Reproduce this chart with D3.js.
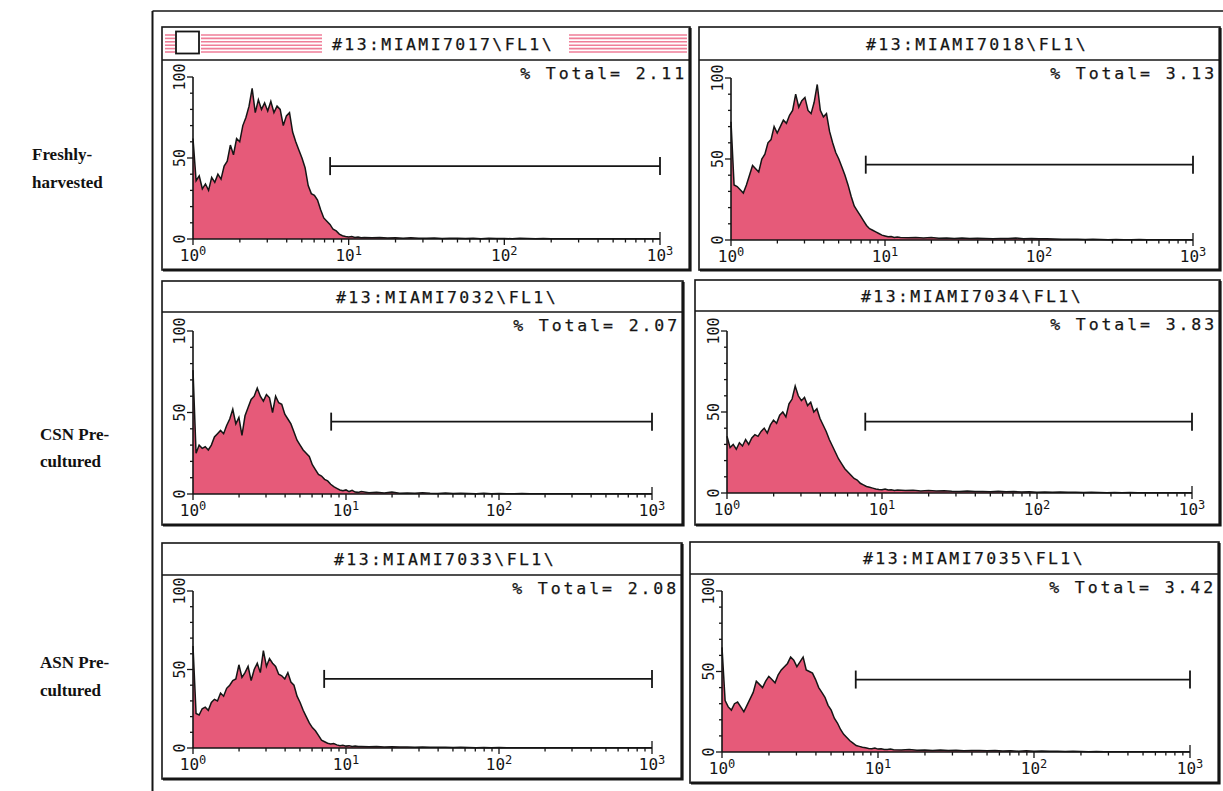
<!DOCTYPE html>
<html><head><meta charset="utf-8">
<script src="https://cdn.jsdelivr.net/npm/d3@7"></script>
<style>body{margin:0;background:#fff}svg{display:block}</style>
</head><body>
<svg id="c" width="1223" height="791"></svg>
<script>
// ---------- DATA ----------
// channel position in hundredths of a decade (0 = 10^0, 300 = 10^3)
const channel = [0,2,4,6,8,10,12,14,16,18,20,22,24,26,28,30,32,34,36,38,40,42,44,46,48,50,52,54,56,58,
  60,62,64,66,68,70,72,74,76,78,80,82,84,86,88,90,92,94,96,98,100,102,104,106,108,110,
  115,120,125,130,135,140,145,150,155,160,165,170,175,180,185,190,195,200,205,210,215,220,225,230,235,240,
  245,250,255,260,265,270,275,280,285,290,295,300];

const sampleTitles = ["#13:MIAMI7017\\FL1\\","#13:MIAMI7018\\FL1\\","#13:MIAMI7032\\FL1\\",
                      "#13:MIAMI7034\\FL1\\","#13:MIAMI7033\\FL1\\","#13:MIAMI7035\\FL1\\"];
const percentTotal = ["2.11","3.13","2.07","3.83","2.08","3.42"];
const gateStart = [7.6, 7.5, 8.0, 7.8, 7.2, 7.2];     // marker start (fluorescence)
const gateLevel = [45, 46.5, 44.4, 44, 44, 45];      // marker height (counts scale)
const rowLabels = [["Freshly-","harvested"],["CSN Pre-","cultured"],["ASN Pre-","cultured"]];
const yTickValues = [0, 50, 100];
const yTickLabels = ["0", "50", "100"];
const xDecades = [1, 10, 100, 1000];
const xDecadeExp = ["0", "1", "2", "3"];

const counts7017 = [62,36,39,31,34,30,38,35,40,37,45,48,58,52,62,60,70,75,82,93,
  78,86,80,84,79,85,78,82,80,70,76,78,66,60,55,50,44,33,28,27,24,18,13,11,9,6,5,3,2,1.5,
  1.2,1.5,1,1.2,0.8,1,
  0.8,1,0.6,0.7,0.5,0.8,0.4,0.5,0.6,0.3,0.5,0.4,0.3,0.5,0.2,0.4,0.3,0.3,0.2,0.4,
  0.3,0.2,0.3,0.2,0.1,0.2,0.1,0.2,0.1,0.1,0.2,0.1,0.1,0.1,0.2,0.1,0.1,0.1];
const counts7018 = [73,34,33,31,29,34,40,46,44,42,50,53,60,62,70,66,70,74,72,77,
  80,90,82,86,88,80,78,85,96,80,76,78,67,60,54,50,45,40,34,27,21,18,15,12,9,7,6,5,4,3,
  2.5,2,2.2,1.6,1.8,1.5,
  1.4,1.6,1.2,1.5,1.1,1.3,1.0,1.2,0.9,1.1,1.0,0.8,1.0,0.9,1.2,0.8,0.9,0.7,0.8,0.6,
  0.5,0.4,0.4,0.3,0.4,0.3,0.2,0.3,0.2,0.2,0.3,0.2,0.1,0.2,0.1,0.1,0.1,0.1];
const counts7032 = [76,25,30,28,29,27,30,35,37,39,37,42,46,52,43,47,36,48,53,58,
  60,65,60,57,61,59,50,60,56,55,49,46,43,38,33,30,27,25,23,18,15,12,11,9,8,6,4.5,3.5,2.5,2,
  2.5,1.5,2.2,1.2,1.0,1.5,
  0.8,1.0,0.6,1.2,0.5,0.6,0.4,0.8,0.4,0.3,0.6,0.3,0.5,0.3,0.2,0.4,0.2,0.3,0.2,0.2,
  0.3,0.1,0.2,0.2,0.1,0.2,0.1,0.1,0.2,0.1,0.1,0.1,0.1,0.2,0.1,0.1,0.1,0.1];
const counts7034 = [35,28,30,27,31,29,33,30,34,36,35,38,40,37,42,45,43,48,50,47,
  55,58,66,60,57,59,54,56,50,52,46,42,38,33,29,25,21,18,15,13,11,9,8,6,5,4,3.5,3,2.5,2.2,
  2,2.4,1.8,2,1.6,1.8,
  1.5,1.7,1.3,1.5,1.2,1.4,1.1,1.0,1.2,0.9,1.0,0.8,1.1,0.7,0.9,0.6,0.8,0.5,0.6,0.4,
  0.6,0.4,0.5,0.3,0.4,0.3,0.2,0.3,0.2,0.3,0.2,0.2,0.1,0.2,0.1,0.1,0.1,0.1];
const counts7033 = [65,22,21,25,26,24,29,31,30,35,33,38,40,43,44,53,45,48,52,43,
  50,54,48,62,52,57,54,52,47,46,44,48,42,40,33,29,24,20,16,13,11,8,5,4,3,2.5,2.8,2,1.5,1.8,
  1.2,1.5,1.0,1.2,0.9,1.0,
  0.8,0.9,0.7,0.8,0.6,0.7,0.5,0.6,0.4,0.5,0.4,0.3,0.4,0.3,0.2,0.3,0.2,0.3,0.2,0.1,
  0.2,0.1,0.2,0.1,0.1,0.1,0.1,0.2,0.1,0.1,0.1,0.1,0.1,0.1,0.1,0.1,0.1,0.1];
const counts7035 = [65,32,28,26,30,31,28,25,29,33,37,44,42,40,44,47,45,43,48,51,
  53,55,59,57,53,56,59,51,50,49,45,40,37,34,29,26,21,18,14,11,9,7,5.5,4,3.5,3,2.7,2.2,2.0,2.4,
  1.8,2.0,1.6,1.5,1.8,1.4,
  1.3,1.5,1.1,1.3,1.0,1.2,0.9,1.1,0.8,1.0,0.9,0.7,0.9,0.6,0.8,0.5,0.7,0.5,0.6,0.4,
  0.5,0.3,0.4,0.3,0.2,0.3,0.2,0.2,0.1,0.2,0.1,0.1,0.1,0.1,0.1,0.1,0.1,0.1];
const allCounts = [counts7017, counts7018, counts7032, counts7034, counts7033, counts7035];

// ---------- LAYOUT (positions only) ----------
const panels = [
  {l:162, r:690,  t:27,  b:270, tb:60,  x0:193, x3:660,  y0:239, y100:77,  tc:443},
  {l:699, r:1220, t:27,  b:270, tb:60,  x0:731, x3:1193, y0:240, y100:78,  tc:977},
  {l:162, r:683,  t:281, b:525, tb:312, x0:193, x3:652,  y0:494, y100:331, tc:447},
  {l:695, r:1220, t:280, b:525, tb:311, x0:727, x3:1192, y0:493, y100:331, tc:972},
  {l:162, r:682,  t:543, b:779, tb:575, x0:193, x3:652,  y0:748, y100:591, tc:445},
  {l:690, r:1219, t:542, b:783, tb:574, x0:722, x3:1190, y0:752, y100:591, tc:974}
];
const rowLabelPos = [{x:32, y:[160,188]},{x:40,y:[440,467]},{x:40,y:[668,696]}];

const FILL = "#e65a79";
const INK = "#151515";
const MONO = "'DejaVu Sans Mono', 'Liberation Mono', monospace";

const svg = d3.select("#c");

// outer frame
svg.append("line").attr("x1",152.5).attr("x2",152.5).attr("y1",11).attr("y2",791)
  .attr("stroke",INK).attr("stroke-width",2);
svg.append("line").attr("x1",152.5).attr("x2",1223).attr("y1",11).attr("y2",11)
  .attr("stroke",INK).attr("stroke-width",1.5);

// row labels
rowLabels.forEach((lines,i)=>{
  const t = svg.append("text").attr("font-family","'Liberation Serif', 'Times New Roman', serif")
    .attr("font-weight","bold").attr("font-size",17).attr("fill","#111");
  lines.forEach((s,j)=>t.append("tspan").attr("x",rowLabelPos[i].x).attr("y",rowLabelPos[i].y[j]).text(s));
});

panels.forEach((p,i)=>{
  const g = svg.append("g");
  const data = channel.map((c,k)=>({c, v: allCounts[i][k]}));
  const xc = d3.scaleLinear().domain([0,300]).range([p.x0,p.x3]);
  const xl = d3.scaleLog().domain([1,1000]).range([p.x0,p.x3]);
  const y = d3.scaleLinear().domain([0,100]).range([p.y0,p.y100]);

  // panel box
  g.append("rect").attr("x",p.l).attr("y",p.t).attr("width",p.r-p.l).attr("height",p.b-p.t)
    .attr("fill","#fff").attr("stroke",INK).attr("stroke-width",1.6);
  // shadow (thick right & bottom)
  g.append("path").attr("d",`M${p.r},${p.t+1}V${p.b}H${p.l+1}`)
    .attr("fill","none").attr("stroke",INK).attr("stroke-width",3.2);
  g.append("line").attr("x1",p.l).attr("x2",p.r).attr("y1",p.tb).attr("y2",p.tb)
    .attr("stroke",INK).attr("stroke-width",1.6);

  // active-window stripes for first panel
  if (i===0){
    const stripeY = d3.range(6).map(k=>p.t+8+k*3.4);
    const segs = [[p.l+3,p.l+13],[p.l+39,322],[569,p.r-3]];
    segs.forEach(([a,b])=>stripeY.forEach(sy=>g.append("line").attr("x1",a).attr("x2",b)
      .attr("y1",sy).attr("y2",sy).attr("stroke","#ef7e98").attr("stroke-width",1.6)));
    g.append("rect").attr("x",p.l+14).attr("y",p.t+4.5).attr("width",23).attr("height",22)
      .attr("fill","#fff").attr("stroke",INK).attr("stroke-width",1.8);
  }

  // title
  g.append("text").attr("x",p.tc).attr("y",(p.t+p.tb)/2+6).attr("text-anchor","middle")
    .attr("font-family",MONO).attr("font-size",16.5).attr("letter-spacing",2.4).attr("fill",INK)
    .attr("stroke",INK).attr("stroke-width",0.25)
    .text(sampleTitles[i]);
  // % Total
  g.append("text").attr("x",p.r-3).attr("y",p.tb+19).attr("text-anchor","end")
    .attr("font-family",MONO).attr("font-size",16.5).attr("letter-spacing",2.9).attr("fill",INK)
    .attr("stroke",INK).attr("stroke-width",0.25)
    .text("% Total= "+percentTotal[i]);

  // histogram
  const area = d3.area().x(d=>xc(d.c)).y0(y(0)).y1(d=>y(d.v));
  const line = d3.line().x(d=>xc(d.c)).y(d=>y(d.v));
  g.append("path").datum(data).attr("d",area).attr("fill",FILL);
  g.append("path").datum(data).attr("d",line).attr("fill","none").attr("stroke",INK)
    .attr("stroke-width",1.5).attr("stroke-linejoin","miter");

  // y axis
  g.append("line").attr("x1",p.x0).attr("x2",p.x0).attr("y1",y(0)).attr("y2",y(100))
    .attr("stroke",INK).attr("stroke-width",1.6);
  d3.range(0,101,10).forEach(v=>{
    const major = yTickValues.includes(v);
    g.append("line").attr("x1",p.x0).attr("x2",p.x0-(major?6:3)).attr("y1",y(v)).attr("y2",y(v))
      .attr("stroke",INK).attr("stroke-width",1.3);
  });
  yTickValues.forEach((v,k)=>{
    g.append("text").attr("transform",`translate(${p.x0-8},${y(v)}) rotate(-90)`)
      .attr("text-anchor","middle").attr("font-family",MONO).attr("font-size",15)
      .attr("fill",INK).text(yTickLabels[k]);
  });

  // x axis
  g.append("line").attr("x1",p.x0).attr("x2",p.x3).attr("y1",y(0)).attr("y2",y(0))
    .attr("stroke",INK).attr("stroke-width",1.6);
  xl.ticks().forEach(v=>{
    const major = xDecades.includes(v);
    g.append("line").attr("x1",xl(v)).attr("x2",xl(v)).attr("y1",y(0)).attr("y2",y(0)+(major?6:3.5))
      .attr("stroke",INK).attr("stroke-width",1.3);
  });
  g.append("line").attr("x1",p.x3).attr("x2",p.x3).attr("y1",y(0)).attr("y2",y(0)-7)
    .attr("stroke",INK).attr("stroke-width",1.3);
  xDecades.forEach((v,k)=>{
    const t = g.append("text").attr("x",xl(v)).attr("y",y(0)+22).attr("text-anchor","middle")
      .attr("font-family",MONO).attr("font-size",16).attr("fill",INK);
    t.append("tspan").text("10");
    t.append("tspan").attr("dy",-6).attr("font-size",12).text(xDecadeExp[k]);
  });

  // gate marker
  const gy = y(gateLevel[i]);
  const gx1 = xl(gateStart[i]), gx2 = xl(1000);
  g.append("line").attr("x1",gx1).attr("x2",gx2).attr("y1",gy).attr("y2",gy)
    .attr("stroke",INK).attr("stroke-width",1.8);
  [gx1,gx2].forEach(gx=>g.append("line").attr("x1",gx).attr("x2",gx).attr("y1",gy-9).attr("y2",gy+9)
    .attr("stroke",INK).attr("stroke-width",1.8));
});
</script>
</body></html>
